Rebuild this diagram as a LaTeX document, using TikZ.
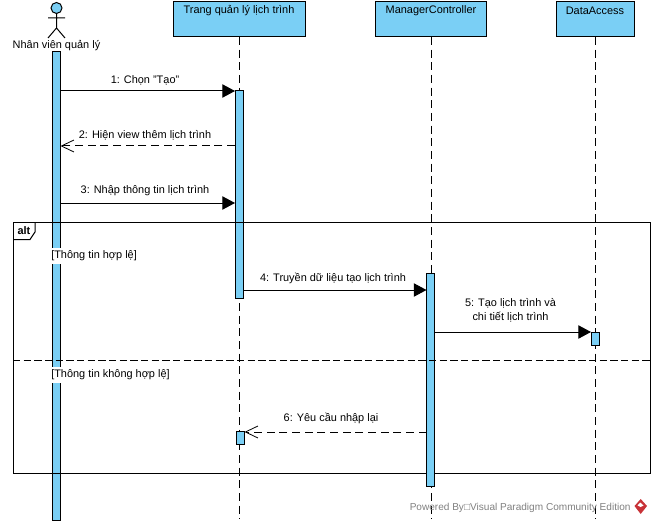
\documentclass[tikz,border=0pt]{standalone}
\usepackage{fontspec}
\setmainfont{Liberation Sans}
\usetikzlibrary{arrows.meta}
\definecolor{barblue}{RGB}{122,207,245}
\definecolor{logored}{RGB}{200,50,55}
\tikzset{
  lifebox/.style={draw=black,fill=barblue,line width=0.75pt},
  activebar/.style={draw=black,fill=barblue,line width=0.75pt},
  lifeline/.style={line width=0.75pt,dash pattern=on 6pt off 3.5pt},
  callmsg/.style={line width=0.75pt,-{Triangle[length=9.5pt,width=10pt]}},
  replymsg/.style={line width=0.75pt,dash pattern=on 6pt off 3.5pt,-{Straight Barb[length=9.4pt,width=9pt,line width=0.6pt]}},
  msgtext/.style={inner sep=0.75pt,font=\fontsize{8.2}{10.5}\selectfont,align=center},
}
\begin{document}
\begin{tikzpicture}[x=0.75pt,y=0.75pt,yscale=-1]
\useasboundingbox (0,0) rectangle (653,524);

% Lifelines
\draw (239,37) coordinate (pageTop);
\draw (239,519) coordinate (pageEnd);
\draw (431,37) coordinate (ctrlTop);
\draw (431,519) coordinate (ctrlEnd);
\draw (595,37) coordinate (dataTop);
\draw (595,519) coordinate (dataEnd);
\draw [lifeline] (pageTop) -- (pageEnd);
\draw [lifeline] (ctrlTop) -- (ctrlEnd);
\draw [lifeline] (dataTop) -- (dataEnd);

% Activation bars
\draw [activebar] (52.5,52) rectangle (60.5,520);
\draw (56.5,52) coordinate (staffBar);
\draw [activebar] (235,91) rectangle (243,298);
\draw [activebar] (236.5,431) rectangle (244.5,444);
\draw [activebar] (591,332) rectangle (599,345);

% Alt frame
\draw [line width=0.75pt] (13,222) rectangle (650,473);
\draw [line width=0.75pt] (13,239.5) -- (30,239.5) -- (35,232) -- (35,222);
\draw [activebar] (426.5,273) rectangle (434.5,486);
\draw [lifeline,dash pattern=on 5.5pt off 2.5pt] (13,360) -- (650,360);

% Lifeline heads
\draw [lifebox] (173,2) rectangle (305,37);
\draw [lifebox] (375,2) rectangle (486,37);
\draw [lifebox] (556,2) rectangle (634,37);

% Actor
\draw [lifebox] (56.5,8) circle (5.5);
\draw [line width=0.75pt] (56.5,13.5) -- (56.5,28) (48,18) -- (65,18) (48,38) -- (56.5,28) -- (65,38);

% Messages
\draw (60.5,91) coordinate (m1a);
\draw (235,91) coordinate (m1b);
\draw (235,146) coordinate (m2a);
\draw (60.5,146) coordinate (m2b);
\draw (60.5,203) coordinate (m3a);
\draw (235,203) coordinate (m3b);
\draw (243,290) coordinate (m4a);
\draw (426.5,290) coordinate (m4b);
\draw (434.5,332) coordinate (m5a);
\draw (591,332) coordinate (m5b);
\draw (426.5,432) coordinate (m6a);
\draw (244.5,432) coordinate (m6b);
\draw [callmsg] (m1a) -- (m1b);
\draw [replymsg] (m2a) -- (m2b);
\draw [callmsg] (m3a) -- (m3b);
\draw [callmsg] (m4a) -- (m4b);
\draw [callmsg] (m5a) -- (m5b);
\draw [replymsg] (m6a) -- (m6b);

% Text Node
\draw (56.5,46) node (staffText) [msgtext] {Nhân viên quản lý};
\draw (239,11) node (pageText) [msgtext] {Trang quản lý lịch trình};
\draw (431,11) node (ctrlText) [msgtext] {ManagerController};
\draw (595,11) node (dataText) [msgtext] {DataAccess};
\draw (145,80) node (m1Text) [msgtext] {1: Chọn "Tạo"};
\draw (145,135) node (m2Text) [msgtext] {2: Hiện view thêm lịch trình};
\draw (145,191) node (m3Text) [msgtext] {3: Nhập thông tin lịch trình};
\draw (333,278) node (m4Text) [msgtext] {4: Truyền dữ liệu tạo lịch trình};
\draw (510.5,310) node (m5Text) [msgtext] {5: Tạo lịch trình và\\chi tiết lịch trình};
\draw (331,418.5) node (m6Text) [msgtext] {6: Yêu cầu nhập lại};
\draw (24,231) node (altText) [msgtext] {\textbf{alt}};
\draw (50,255.5) node (guardOk) [msgtext,anchor=west,fill=white,minimum height=12pt] {[Thông tin hợp lệ]};
\draw (50,374.5) node (guardBad) [msgtext,anchor=west,fill=white,minimum height=12pt] {[Thông tin không hợp lệ]};
\draw (408.5,507.5) node (poweredText) [msgtext,anchor=west,text=black!50,font=\fontsize{7.55}{10}\selectfont] {Powered By□Visual Paradigm Community Edition};

% Logo
\fill [logored] (640.7,499) -- (647,506) -- (640.7,514) -- (634.5,506) -- cycle;
\fill [white] (640.2,502.5) -- (643.5,505.5) -- (640.5,507) -- (637.5,505.5) -- cycle;
\end{tikzpicture}
\end{document}
